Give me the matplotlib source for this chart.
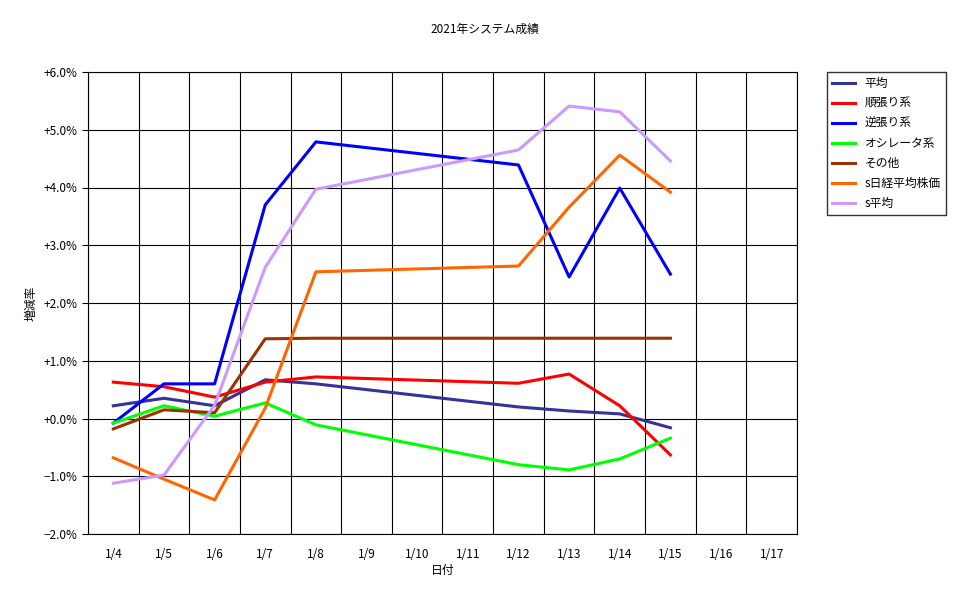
import numpy as np
import matplotlib
matplotlib.use("Agg")
import matplotlib.pyplot as plt

plt.rcParams['font.family'] = ['Noto Sans CJK JP', 'DejaVu Sans']
plt.rcParams['font.size'] = 8.5

dates = ['1/4', '1/5', '1/6', '1/7', '1/8', '1/9', '1/10', '1/11', '1/12',
         '1/13', '1/14', '1/15', '1/16', '1/17']
nan = np.nan
heikin = [0.22, 0.35, 0.22, 0.67, 0.60, nan, nan, nan, 0.20, 0.13, 0.08, -0.16]
junbari = [0.63, 0.55, 0.37, 0.63, 0.72, nan, nan, nan, 0.61, 0.77, 0.22, -0.63]
gyakubari = [-0.08, 0.60, 0.60, 3.70, 4.79, nan, nan, nan, 4.39, 2.45, 3.99, 2.50]
oscillator = [-0.08, 0.22, 0.04, 0.27, -0.11, nan, nan, nan, -0.80, -0.89, -0.70, -0.34]
sonota = [-0.18, 0.15, 0.10, 1.38, 1.39, nan, nan, nan, 1.39, 1.39, 1.39, 1.39]
nikkei = [-0.68, -1.05, -1.41, 0.18, 2.54, nan, nan, nan, 2.64, 3.66, 4.56, 3.92]
s_heikin = [-1.12, -0.98, 0.23, 2.62, 3.97, nan, nan, nan, 4.65, 5.41, 5.31, 4.46]

series = [('平均', heikin, '#333399'), ('順張り系', junbari, '#ff0000'),
          ('逆張り系', gyakubari, '#0000ff'), ('オシレータ系', oscillator, '#00ff00'),
          ('その他', sonota, '#993300'), ('s日経平均株価', nikkei, '#ff6600'),
          ('s平均', s_heikin, '#cc99ff')]

fig = plt.figure(figsize=(9.7, 6.04), dpi=100)
ax = fig.add_axes([88/970, 70/604, 709/970, 462/604])
for name, vals, c in series:
    v = np.array(vals)
    x = np.arange(len(v))
    m = ~np.isnan(v)
    ax.plot(x[m], v[m], color=c, lw=2.2, label=name)

ax.set_xlim(-0.5, len(dates) - 0.5)
ax.set_ylim(-2, 6)
ax.set_xticks(np.arange(len(dates)))
ax.set_xticklabels(dates)
ax.set_xticks(np.arange(len(dates) + 1) - 0.5, minor=True)
ax.tick_params(axis='x', which='both', length=0, pad=10)
ax.set_yticks(np.arange(-2, 7))
ax.set_yticklabels([f'{v:+.1f}%'.replace('-', '−') if v != 0 else '+0.0%' for v in range(-2, 7)])
ax.tick_params(axis='y', length=4)
ax.grid(True, which='minor', axis='x', color='black', lw=0.8)
ax.grid(True, which='major', axis='y', color='black', lw=0.8)
ax.set_xlabel('日付', labelpad=2)
ax.set_ylabel('増減率')
fig.text(485/970, 1 - 29/604, '2021年システム成績', ha='center', va='center')
fig.legend(loc='upper left', bbox_to_anchor=(827/970, 1 - 72/604), frameon=True,
           fancybox=False, edgecolor='black', handlelength=2, borderaxespad=0,
           labelspacing=0.6)
fig.savefig('out.png', dpi=100)
